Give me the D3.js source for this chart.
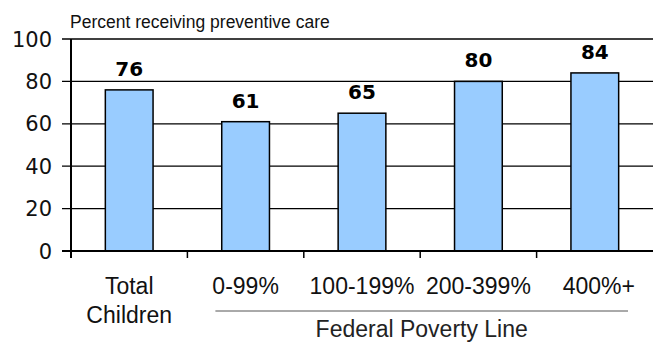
<!DOCTYPE html>
<html>
<head>
<meta charset="utf-8">
<script src="https://cdn.jsdelivr.net/npm/d3@7"></script>
<style>
  body { margin: 0; background: #fff; }
  svg { display: block; }
</style>
</head>
<body>
<div id="chart"></div>
<script>
// data
const categories = ["Total Children", "0-99%", "100-199%", "200-399%", "400%+"];
const labelLines = [["Total", "Children"], ["0-99%"], ["100-199%"], ["200-399%"], ["400%+"]];
const values = [76, 61, 65, 80, 84];
const yTicks = [0, 20, 40, 60, 80, 100];
const yTitle = "Percent receiving preventive care";
const groupTitle = "Federal Poverty Line";

const W = 653, H = 343;
const margin = { top: 39, right: 0, bottom: 92, left: 71 };
const width = W - margin.left - margin.right;
const height = H - margin.top - margin.bottom;

const svg = d3.select("#chart")
    .append("svg")
    .attr("width", W)
    .attr("height", H);

const g = svg.append("g")
    .attr("transform", `translate(${margin.left},${margin.top})`);

const x = d3.scaleBand()
    .domain(categories)
    .range([0, width])
    .padding(0);

const y = d3.scaleLinear()
    .domain([0, 100])
    .range([height, 0]);

const barW = x.bandwidth() * 0.41;

// gridlines (with small tick stubs left of the axis)
g.selectAll(".grid")
    .data(yTicks.filter(d => d > 0))
    .enter().append("line")
    .attr("x1", -9)
    .attr("x2", width)
    .attr("y1", d => y(d))
    .attr("y2", d => y(d))
    .attr("stroke", "#000")
    .attr("stroke-width", 1.3);

// y tick labels
g.selectAll(".ylab")
    .data(yTicks)
    .enter().append("text")
    .attr("x", -19)
    .attr("y", d => y(d))
    .attr("dy", "0.36em")
    .attr("text-anchor", "end")
    .style("font-family", "'DejaVu Sans', sans-serif")
    .style("font-size", "21px")
    .attr("fill", "#111")
    .text(d => d);

// bars
g.selectAll(".bar")
    .data(values)
    .enter().append("rect")
    .attr("x", (d, i) => x(categories[i]) + (x.bandwidth() - barW) / 2)
    .attr("y", d => y(d))
    .attr("width", barW)
    .attr("height", d => height - y(d))
    .attr("fill", "#99ccff")
    .attr("stroke", "#000")
    .attr("stroke-width", 1.5);

// value labels
g.selectAll(".val")
    .data(values)
    .enter().append("text")
    .attr("x", (d, i) => x(categories[i]) + x.bandwidth() / 2)
    .attr("y", d => y(d) - 14)
    .attr("text-anchor", "middle")
    .style("font-family", "'DejaVu Sans', sans-serif")
    .style("font-weight", "bold")
    .style("font-size", "20px")
    .attr("fill", "#000")
    .text(d => d);

// axes lines
g.append("line")
    .attr("x1", 0).attr("x2", 0)
    .attr("y1", 0).attr("y2", height + 7)
    .attr("stroke", "#000")
    .attr("stroke-width", 2);

g.append("line")
    .attr("x1", -9).attr("x2", width)
    .attr("y1", height).attr("y2", height)
    .attr("stroke", "#000")
    .attr("stroke-width", 2);

// category boundary ticks
g.selectAll(".xtick")
    .data(categories.slice(1))
    .enter().append("line")
    .attr("x1", d => x(d)).attr("x2", d => x(d))
    .attr("y1", height).attr("y2", height + 7)
    .attr("stroke", "#000")
    .attr("stroke-width", 1.5);

// category labels
const xl = g.selectAll(".xlab")
    .data(labelLines)
    .enter().append("text")
    .attr("text-anchor", "middle")
    .style("font-family", "'Liberation Sans', Arial, sans-serif")
    .style("font-size", "23px")
    .attr("fill", "#111")
    .attr("transform", (d, i) => `translate(${x(categories[i]) + x.bandwidth() / 2 + (i === 4 ? 4 : 0)},${height + 43})`);

xl.selectAll("tspan")
    .data(d => d)
    .enter().append("tspan")
    .attr("x", 0)
    .attr("y", (d, i) => i * 29)
    .text(d => d);

// group bracket line + title
const gx0 = x(categories[1]) + 28;
const gx1 = width - 25;
g.append("line")
    .attr("x1", gx0).attr("x2", gx1)
    .attr("y1", height + 60).attr("y2", height + 60)
    .attr("stroke", "#555")
    .attr("stroke-width", 1);

g.append("text")
    .attr("x", (gx0 + gx1) / 2)
    .attr("y", height + 86)
    .attr("text-anchor", "middle")
    .style("font-family", "'Liberation Sans', Arial, sans-serif")
    .style("font-size", "23px")
    .attr("fill", "#222")
    .text(groupTitle);

// y title
svg.append("text")
    .attr("x", 70)
    .attr("y", 28)
    .style("font-family", "'Liberation Sans', Arial, sans-serif")
    .style("font-size", "17.5px")
    .attr("fill", "#111")
    .text(yTitle);
</script>
</body>
</html>
